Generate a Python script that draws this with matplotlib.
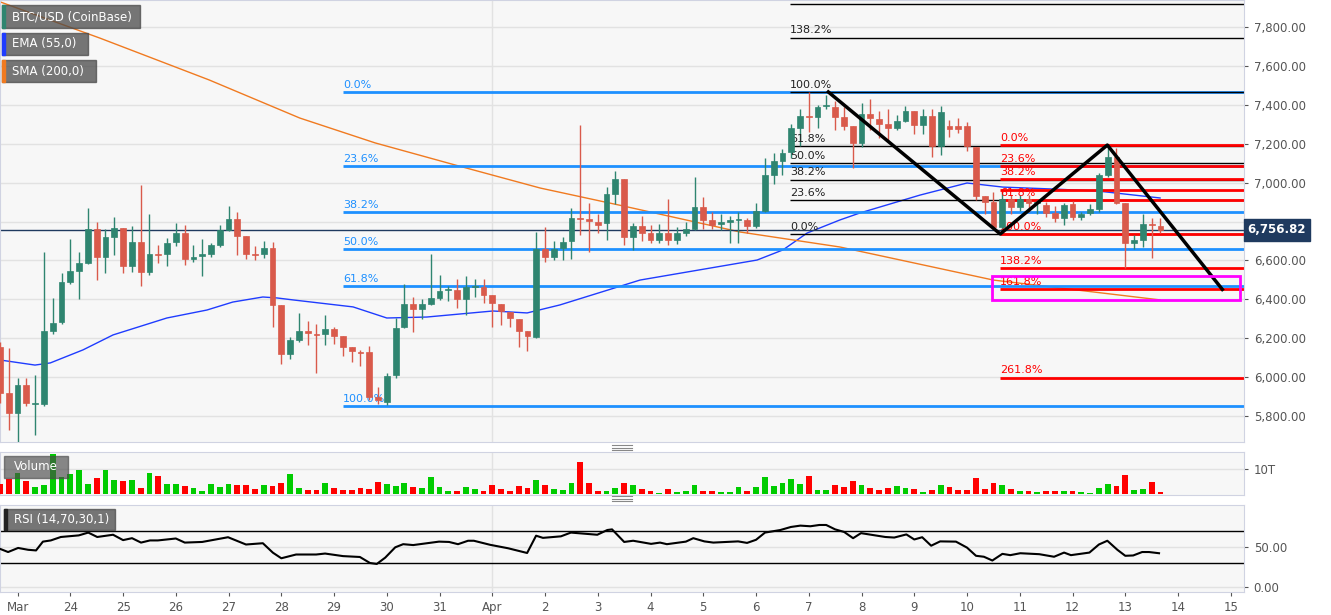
import numpy as np
import matplotlib
matplotlib.use("Agg")
import matplotlib.pyplot as plt
from matplotlib.patches import Rectangle
from matplotlib.lines import Line2D
import matplotlib.ticker as mticker

# ---- data (4h candles, x in days of March; Apr 1 = 32) ----
T0 = 22 + 2 / 3
opens = [6155, 5918, 5815, 5960, 5862, 5862, 6237, 6283, 6489, 6546, 6587, 6761, 6618, 6720, 6766, 6571,
         6695, 6540, 6633, 6633, 6695, 6741, 6607, 6623, 6633, 6679, 6756, 6813, 6726, 6633, 6633, 6664,
         6371, 6119, 6191, 6237, 6222, 6222, 6247, 6211, 6155, 6129, 6129, 5898, 5872, 6011, 6258, 6376,
         6350, 6376, 6407, 6448, 6448, 6402, 6463, 6463, 6422, 6376, 6335, 6299, 6237, 6206, 6659, 6618,
         6664, 6700, 6818, 6813, 6797, 6792, 6941, 7018, 6720, 6777, 6741, 6705, 6741, 6705, 6741, 6761,
         6875, 6808, 6787, 6797, 6808, 6808, 6777, 6854, 7039, 7111, 7157, 7281, 7342, 7337, 7394, 7389,
         7337, 7291, 7204, 7353, 7327, 7301, 7281, 7317, 7368, 7296, 7342, 7188, 7291, 7291, 7291, 7183,
         6931, 6900, 6772, 6916, 6875, 6916, 6895, 6885, 6844, 6818, 6890, 6823, 6844, 6864, 7039, 7132,
         6895, 6690, 6705, 6787, 6777]
closes = [5918, 5815, 5960, 5867, 5862, 6237, 6278, 6489, 6546, 6587, 6761, 6618, 6720, 6766, 6571, 6695,
          6540, 6633, 6628, 6690, 6741, 6607, 6618, 6633, 6679, 6756, 6813, 6726, 6633, 6628, 6664, 6371,
          6119, 6191, 6237, 6227, 6217, 6247, 6211, 6155, 6134, 6124, 5898, 5882, 6006, 6252, 6376, 6350,
          6376, 6407, 6443, 6453, 6402, 6463, 6468, 6422, 6381, 6340, 6304, 6237, 6211, 6659, 6618, 6659,
          6695, 6818, 6813, 6803, 6782, 6941, 7018, 6720, 6777, 6741, 6705, 6741, 6705, 6741, 6761, 6875,
          6808, 6782, 6797, 6808, 6813, 6777, 6854, 7039, 7111, 7152, 7281, 7342, 7337, 7389, 7399, 7337,
          7291, 7204, 7353, 7332, 7301, 7281, 7317, 7368, 7296, 7342, 7188, 7363, 7276, 7276, 7188, 6931,
          6900, 6772, 6916, 6875, 6916, 6895, 6900, 6844, 6818, 6885, 6823, 6839, 6864, 7039, 7132, 6895,
          6690, 6705, 6787, 6782, 6757]
highs = [6180, 6150, 5995, 5995, 6010, 6643, 6407, 6535, 6710, 6643, 6870, 6797, 6761, 6823, 6766, 6777,
         6988, 6839, 6680, 6715, 6792, 6782, 6680, 6710, 6690, 6782, 6880, 6849, 6726, 6674, 6700, 6695,
         6371, 6205, 6330, 6289, 6273, 6320, 6260, 6211, 6155, 6140, 6160, 5950, 6020, 6305, 6479, 6412,
         6400, 6633, 6525, 6468, 6505, 6520, 6505, 6505, 6422, 6376, 6335, 6299, 6237, 6746, 6770, 6700,
         6720, 6870, 7296, 6896, 6840, 6975, 7060, 7018, 6790, 6830, 6780, 6785, 6916, 6770, 6800, 7029,
         6925, 6850, 6840, 6830, 6850, 6820, 6895, 7126, 7150, 7175, 7300, 7378, 7466, 7400, 7451, 7420,
         7389, 7291, 7410, 7430, 7370, 7380, 7350, 7394, 7368, 7380, 7380, 7395, 7320, 7330, 7310, 7183,
         6931, 6950, 6950, 6935, 6935, 6935, 6910, 6900, 6880, 6895, 6905, 6850, 6890, 7050, 7193, 7180,
         6895, 6730, 6840, 6820, 6820]
lows = [5867, 5728, 5667, 5850, 5705, 5850, 6220, 6275, 6480, 6402, 6580, 6499, 6535, 6628, 6535, 6540,
        6468, 6525, 6587, 6571, 6674, 6576, 6590, 6520, 6620, 6670, 6750, 6628, 6607, 6600, 6610, 6258,
        6068, 6093, 6180, 6165, 6021, 6165, 6170, 6109, 6080, 6057, 5880, 5862, 5855, 5995, 6250, 6230,
        6300, 6370, 6398, 6392, 6355, 6320, 6410, 6380, 6258, 6270, 6260, 6155, 6134, 6200, 6590, 6600,
        6602, 6607, 6730, 6643, 6740, 6705, 6890, 6679, 6654, 6700, 6690, 6690, 6680, 6685, 6725, 6755,
        6760, 6760, 6755, 6690, 6690, 6740, 6765, 6850, 6995, 7040, 7125, 7190, 7260, 7280, 7380, 7270,
        7270, 7075, 7183, 7270, 7230, 7210, 7270, 7310, 7250, 7250, 7130, 7142, 7235, 7255, 7160, 6910,
        6840, 6760, 6740, 6840, 6855, 6850, 6840, 6825, 6795, 6780, 6810, 6810, 6835, 6850, 7030, 6890,
        6561, 6660, 6670, 6612, 6740]
volume_t = [3.9, 6.1, 8.4, 5.2, 2.6, 3.5, 15.8, 6.5, 7.8, 9.6, 3.9, 6.2, 9.4, 5.7, 5.3, 5.5, 2.2, 8.1, 7.0,
            3.9, 4.0, 3.1, 2.3, 1.2, 3.9, 2.6, 3.8, 3.6, 3.4, 1.9, 3.5, 3.2, 4.2, 7.7, 2.3, 1.7, 1.7, 4.3,
            2.3, 1.6, 1.6, 2.2, 1.9, 4.7, 3.8, 3.1, 4.2, 2.6,
            2.3, 6.8, 2.7, 1.2, 1.3, 2.7, 2.1, 1.3, 3.5, 1.8, 1.3, 3.2, 2.2, 5.5, 3.5, 1.8, 1.6, 4.5, 12.7,
            4.2, 1.3, 1.2, 2.3, 4.3, 3.5, 1.8, 1.3, 0.4, 2.1, 0.9, 1.3, 3.5, 1.3, 1.3, 1.0, 1.0, 2.6, 1.3,
            2.6, 6.5, 3.1, 4.2, 5.8, 3.9, 7.1, 1.6, 1.6,
            3.4, 2.9, 5.2, 3.5, 2.2, 1.6, 2.2, 3.2, 2.2, 1.8, 1.0, 1.6, 3.5, 2.6, 1.6, 1.6, 6.2, 1.8, 4.3,
            3.4, 1.9, 1.2, 1.3, 0.8, 1.3, 1.3, 1.3, 1.3, 0.8, 0.5, 2.2, 3.9, 3.2, 7.5, 1.6, 1.8, 4.9, 0.8]

ema_t = [22.67, 23.33, 23.62, 24.24, 24.81, 25.83, 26.59, 27.08, 27.65, 27.92, 28.22, 29.36, 30.0, 30.76,
         32.01, 32.66, 33.28, 34.8, 37.02, 37.51, 37.97, 38.59, 38.97, 40.11, 41.0, 41.68, 42.63, 43.47, 44.66]
ema_v = [6088, 6062, 6073, 6140, 6217, 6304, 6345, 6386, 6412, 6407, 6397, 6361, 6304, 6309,
         6340, 6330, 6371, 6499, 6602, 6654, 6741, 6808, 6844, 6936, 6998, 6977, 6967, 6957, 6921]
sma_t = [22.67, 24.56, 26.63, 28.35, 29.78, 31.29, 32.91, 34.48, 36.7, 38.59, 41.5, 44.66]
sma_v = [7929, 7743, 7528, 7332, 7204, 7091, 6972, 6880, 6746, 6669, 6499, 6397]

rsi_t = [22.67, 22.82, 23.01, 23.2, 23.35, 23.48, 23.63, 23.82, 24.16, 24.34, 24.51, 24.81, 25.0, 25.17,
         25.34, 25.51, 25.66, 26.0, 26.17, 26.5, 26.99, 27.33, 27.65, 27.84, 28.0, 28.28, 28.66, 28.83,
         29.17, 29.49, 29.68, 29.81, 29.97, 30.16, 30.31, 30.5, 30.99, 31.18, 31.35, 31.54, 31.65, 31.96,
         32.3, 32.66, 32.83, 32.96, 33.3, 33.49, 33.99, 34.18, 34.27, 34.5, 34.67, 35.01, 35.18, 35.31,
         35.67, 35.81, 36.02, 36.19, 36.66, 36.83, 37.0, 37.17, 37.46, 37.66, 37.84, 38.03, 38.2, 38.33,
         38.5, 38.67, 38.84, 38.99, 39.45, 39.62, 39.85, 40.0, 40.15, 40.32, 40.49, 40.79, 41.0, 41.17,
         41.32, 41.48, 41.67, 41.82, 42.01, 42.37, 42.65, 42.84, 42.97, 43.32, 43.5, 43.66, 43.85, 44.0,
         44.15, 44.32, 44.45, 44.64]
rsi_v = [47.6, 43.7, 48.8, 46.5, 45.7, 56.7, 58.2, 62.5, 64.5, 68, 62.5, 65.3, 58.6, 61, 55.5, 58.2,
         58.2, 60.6, 55.5, 56.3, 62.2, 53.1, 54.7, 42.9, 35.9, 40.6, 40.6, 41.8, 38.6, 37.5, 30, 28.8,
         36.7, 49.6, 53.5, 52.4, 56.7, 56.3, 53.5, 57.8, 57.8, 52.7, 48.4, 42.5, 64.1, 61.4, 63.3, 68,
         65.3, 71.2, 72, 56.3, 57.8, 53.9, 55.5, 53.5, 56.7, 61, 57, 55.5, 57, 55.1, 59, 68, 71.2, 75,
         76.7, 75.9, 77.5, 77.5, 72, 68.8, 61, 67.3, 62.5, 61.8, 65.7, 59.4, 62.2, 51.6, 57, 56.7, 49.2,
         39, 37.8, 33.1, 41.4, 39.8, 42.2, 41, 37.8, 43, 39.8, 43, 53.1, 57.8, 46.5, 39, 39.4, 43.7,
         43.7, 42.2]

last_price = 6756.82
fib_ratios = [0.0, 0.236, 0.382, 0.5, 0.618, 1.0]
blue_hi, blue_lo, blue_start = 7466, 5852, 29.17
black_lo, black_hi, black_start = 6736, 7466, 37.65
black_ratios = [0.0, 0.236, 0.382, 0.5, 0.618, 1.0, 1.382, 1.618]
red_hi, red_lo, red_start = 7193, 6736, 41.63
red_ratios = [0.0, 0.236, 0.382, 0.5, 0.618, 1.0, 1.382, 1.618, 2.618]
zig_t = [38.37, 41.63, 43.66, 45.84]
zig_p = [7466, 6736, 7193, 6451]
box_t = (41.48, 46.18)
box_p = (6397, 6520)

day_ticks = list(range(23, 47))
day_labels = ["Mar"] + [str(d) for d in range(24, 32)] + ["Apr"] + [str(d) for d in range(2, 16)]

# ---- style ----
GREEN, RED = "#2f8570", "#d95a4b"
VGREEN, VRED = "#00cc00", "#ff0000"
FIB_BLUE, FIB_RED = "#1e90ff", "#ff0000"
BG, EDGE, TXT = "#f7f7f7", "#d0d3e2", "#555555"
XMIN, XMAX = T0, 46.25

fig = plt.figure(figsize=(13.31, 6.15), dpi=100)
ax = fig.add_axes([0.0, 0.2813, 0.9346, 0.7187])
axv = fig.add_axes([0.0, 0.195, 0.9346, 0.070], sharex=ax)
axr = fig.add_axes([0.0, 0.0374, 0.9346, 0.1415], sharex=ax)

for a in (ax, axv, axr):
    a.set_facecolor(BG)
    for s in a.spines.values():
        s.set_color(EDGE)
    a.yaxis.tick_right()
    a.tick_params(axis="y", colors=TXT, labelsize=8.5, length=3, pad=4)
    a.tick_params(axis="x", colors=TXT, labelsize=8.5, length=3)
    a.axvline(32, color="#e2e2e2", lw=1, zorder=0)

# ---- candles ----
t = T0 + np.arange(len(opens)) / 6
o, c, h, l = map(np.array, (opens, closes, highs, lows))
up = c >= o
cols = np.where(up, GREEN, RED)
ax.vlines(t, l, h, colors=cols, lw=1, zorder=3)
body = np.maximum(np.abs(c - o), 4)
ax.bar(t, body, bottom=np.minimum(o, c), width=0.11, color=cols, edgecolor=cols, lw=0.5, zorder=4)

ax.plot(ema_t, ema_v, color="#1f3cff", lw=1, zorder=2)
ax.plot(sma_t, sma_v, color="#f07a20", lw=1, zorder=2)
ax.axhline(last_price, color="#1f3a5f", lw=1, zorder=2)

# fib: blue
for r in fib_ratios:
    lv = blue_hi - r * (blue_hi - blue_lo)
    ax.hlines(lv, blue_start, XMAX, color=FIB_BLUE, lw=2, zorder=2)
    ax.text(blue_start, lv + 12, f"{r*100:.1f}%", color=FIB_BLUE, fontsize=8, va="bottom", ha="left")
# fib: black
for r in black_ratios:
    lv = black_lo + r * (black_hi - black_lo)
    ax.hlines(lv, black_start, XMAX, color="black", lw=1, zorder=2)
    ax.text(black_start, lv + 12, f"{r*100:.1f}%", color="#222222", fontsize=8, va="bottom", ha="left")
# fib: red
for r in red_ratios:
    lv = red_hi - r * (red_hi - red_lo)
    ax.hlines(lv, red_start, XMAX, color=FIB_RED, lw=2, zorder=2)
    if r != 0.5:
        ax.text(red_start, lv + 12, f"{r*100:.1f}%", color=FIB_RED, fontsize=8, va="bottom", ha="left")

ax.plot(zig_t, zig_p, color="black", lw=2.5, zorder=6)
ax.add_patch(Rectangle((box_t[0], box_p[0]), box_t[1] - box_t[0], box_p[1] - box_p[0],
                       fill=False, edgecolor="#ff00ff", lw=2, zorder=7))

ax.set_ylim(5666.5, 7938.8)
ax.set_xlim(XMIN, XMAX)
ax.yaxis.set_major_locator(mticker.MultipleLocator(200))
# the 6,800 label sits under the last-price box
ax.yaxis.set_major_formatter(mticker.FuncFormatter(
    lambda v, p: "" if abs(v - 6800) < 1 else f"{v:,.2f}"))
ax.grid(axis="y", color="#e2e2e2", lw=1, zorder=0)
ax.tick_params(axis="x", labelbottom=False, length=0)
ax.text(1.0 + 0.003, last_price, f"{last_price:,.2f}", transform=ax.get_yaxis_transform(),
        color="white", fontsize=8.5, fontweight="bold", va="center", ha="left", clip_on=False,
        bbox=dict(boxstyle="square,pad=0.35", fc="#1f3a5f", ec="#1f3a5f"), zorder=10)

# ---- volume ----
vcols = np.where(up, VGREEN, VRED)
axv.bar(t, volume_t, width=0.11, color=vcols, zorder=3)
axv.set_ylim(-0.4, 16.5)
axv.set_yticks([10])
axv.set_yticklabels(["10T"])
axv.grid(axis="y", color="#e2e2e2", lw=1, zorder=0)
axv.tick_params(axis="x", labelbottom=False, length=0)

# ---- RSI ----
axr.plot(rsi_t, rsi_v, color="black", lw=1.5, zorder=3)
axr.axhline(70, color="black", lw=1)
axr.axhline(30, color="black", lw=1)
axr.set_ylim(-6.25, 102.5)
axr.set_yticks([0, 50])
axr.set_yticklabels(["0.00", "50.00"])
axr.grid(axis="y", color="#e2e2e2", lw=1, zorder=0)
axr.set_xticks(day_ticks)
axr.set_xticklabels(day_labels)

# ---- legend boxes ----
def label_box(x, y, w, hgt, text, strip=None, alpha=0.75):
    fig.add_artist(Rectangle((x / 1331, 1 - (y + hgt) / 615), w / 1331, hgt / 615,
                             transform=fig.transFigure, color="#4a4a4a", alpha=alpha, zorder=20))
    if strip:
        fig.add_artist(Rectangle((x / 1331, 1 - (y + hgt) / 615), 3 / 1331, hgt / 615,
                                 transform=fig.transFigure, color=strip, zorder=21))
    fig.text((x + 10) / 1331, 1 - (y + hgt / 2) / 615, text, color="white", fontsize=8.5,
             va="center", ha="left", zorder=22)

label_box(2, 5, 138, 23, "BTC/USD (CoinBase)", "#2f8570")
label_box(2, 33, 86, 22, "EMA (55,0)", "#1f3cff")
label_box(2, 60, 94, 22, "SMA (200,0)", "#f07a20")
label_box(4, 456, 64, 22, "Volume", None, 0.65)
label_box(4, 509, 111, 21, "RSI (14,70,30,1)", "#222222")

# panel drag handles
for yy in (445, 447.5, 450, 496, 498.5, 501):
    fig.add_artist(Line2D([612 / 1331, 632 / 1331], [1 - yy / 615] * 2, color="#888888", lw=0.8))

fig.savefig("out.png", dpi=100, facecolor="white")
